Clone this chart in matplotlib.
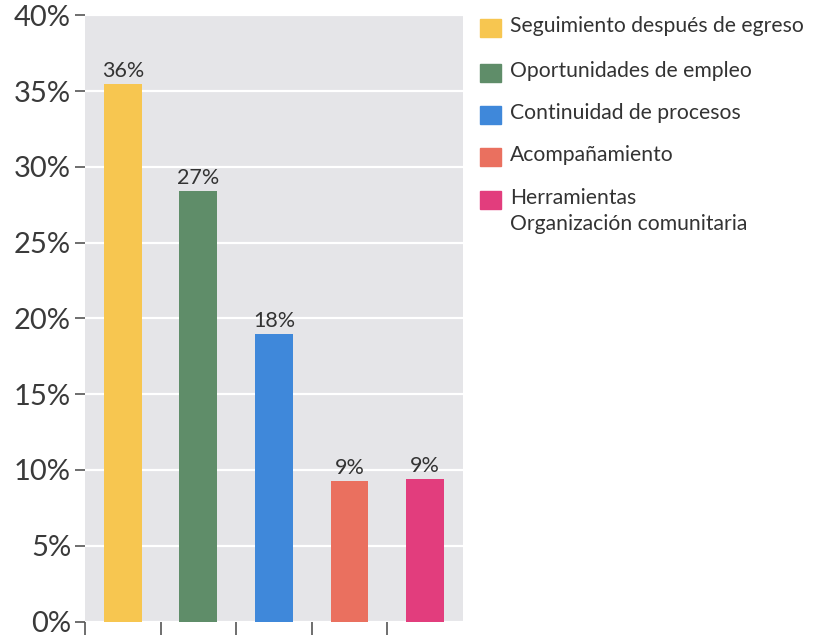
import matplotlib
matplotlib.use("Agg")
import matplotlib.pyplot as plt
from matplotlib.patches import Rectangle

categories = ["Seguimiento después de egreso", "Oportunidades de empleo",
              "Continuidad de procesos", "Acompañamiento",
              "Herramientas\nOrganización comunitaria"]
values = [35.5, 28.4, 19.0, 9.3, 9.4]
bar_labels = ["36%", "27%", "18%", "9%", "9%"]
colors = ["#F7C650", "#5F8D69", "#3F88DA", "#EA705F", "#E23D7D"]
yticks = [0, 5, 10, 15, 20, 25, 30, 35, 40]
ytick_labels = ["0%", "5%", "10%", "15%", "20%", "25%", "30%", "35%", "40%"]

plt.rcParams['font.family'] = ['Lato', 'DejaVu Sans']

fig = plt.figure(figsize=(8.17, 6.37), dpi=100)
ax = fig.add_axes([0.104, 0.0243, 0.4627, 0.9515])
ax.set_facecolor("#E5E5E8")
x = list(range(len(values)))
ax.bar(x, values, width=0.5, color=colors, zorder=3)
for xi, v, lab in zip(x, values, bar_labels):
    ax.text(xi, v + 0.2, lab, ha="center", va="bottom", fontsize=15.5, color="#333333", zorder=4)

ax.set_xlim(-0.5, 4.5)
ax.set_ylim(0, 40)
ax.set_yticks(yticks)
ax.set_yticklabels(ytick_labels, fontsize=21, color="#3A3A3A")
ax.set_xticks([-0.5, 0.5, 1.5, 2.5, 3.5])
ax.set_xticklabels([])
ax.tick_params(axis="x", length=9, width=1.2, color="#555555", direction="out")
ax.tick_params(axis="y", length=7, width=1.2, color="#555555", pad=3)
for s in ax.spines.values():
    s.set_visible(False)
ax.grid(axis="y", color="white", linewidth=1.6, zorder=1)
ax.set_axisbelow(True)

# legend
W, H = 817, 637
rows_y = [28, 73, 115, 157, 200]
for c, lab, ry in zip(colors, categories, rows_y):
    fig.patches.append(Rectangle((480 / W, 1 - (ry + 9) / H), 21 / W, 18 / H,
                                 transform=fig.transFigure, color=c, figure=fig))
    fig.text(510 / W, 1 - (ry - 12) / H, lab, ha="left", va="top", fontsize=15.2,
             color="#333333", linespacing=1.35)

fig.savefig("out.png", dpi=100, facecolor="white")
